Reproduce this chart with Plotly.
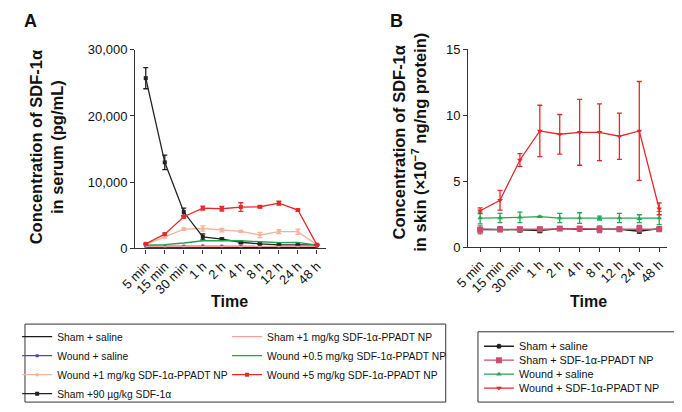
import plotly.graph_objects as go

# The page body adds an 8px margin, so the figure is drawn 8px smaller and
# every layout position below is given in window pixels and converted.
OFF = 8
W, H = 682 - OFF, 412 - OFF
FONT = "Liberation Sans, Arial, sans-serif"


def px(x):
    return (x - OFF) / W


def py(y):
    return 1 - (y - OFF) / H


time_labels = ["5 min", "15 min", "30 min", "1 h", "2 h", "4 h", "8 h", "12 h", "24 h", "48 h"]

# ---------- Panel A: serum (pg/mL) ----------
a_sham_saline = [180, 180, 190, 200, 190, 190, 180, 180, 180, 180]
a_wound_saline = [340, 340, 350, 390, 350, 340, 340, 330, 330, 330]
a_wound_1 = [600, 1700, 2920, 3020, 2770, 2580, 2040, 2530, 2530, 550]
a_wound_1_err = [100, 150, 200, 400, 250, 150, 400, 300, 400, 80]
a_sham_90 = [25700, 13000, 5500, 1750, 1420, 940, 700, 560, 560, 550]
a_sham_90_err = [1600, 1100, 600, 450, 150, 200, 100, 80, 80, 60]
a_sham_1 = [300, 300, 310, 320, 330, 350, 380, 380, 380, 330]
a_wound_05 = [490, 580, 830, 1170, 1170, 1170, 1020, 880, 930, 490]
a_wound_5 = [700, 2170, 4800, 6100, 6000, 6250, 6300, 6830, 5800, 550]
a_wound_5_err = [120, 150, 200, 300, 350, 650, 150, 300, 150, 80]

# ---------- Panel B: skin (x10^-7 ng/ng protein) ----------
b_sham_saline = [1.35, 1.35, 1.30, 1.25, 1.40, 1.35, 1.35, 1.35, 1.20, 1.40]
b_sham_saline_err = [0.10, 0.10, 0.15, 0.15, 0.05, 0.10, 0.10, 0.10, 0.15, 0.05]
b_sham_np = [1.30, 1.35, 1.35, 1.35, 1.40, 1.40, 1.35, 1.35, 1.40, 1.35]
b_sham_np_err = [0.30, 0.20, 0.15, 0.15, 0.05, 0.10, 0.25, 0.15, 0.25, 0.10]
b_wound_saline = [2.20, 2.20, 2.25, 2.30, 2.20, 2.20, 2.20, 2.20, 2.15, 2.20]
b_wound_saline_err = [0.45, 0.35, 0.40, 0.05, 0.35, 0.40, 0.15, 0.35, 0.30, 0.50]
b_wound_np = [2.75, 3.55, 6.60, 8.80, 8.55, 8.70, 8.70, 8.40, 8.80, 2.90]
b_wound_np_err = [0.22, 0.75, 0.48, 1.95, 1.50, 2.50, 2.15, 1.75, 3.75, 0.45]

y_a_ticks = [0, 10000, 20000, 30000]
y_a_ticktext = ["0", "10,000", "20,000", "30,000"]
y_b_ticks = [0, 5, 10, 15]

fig = go.Figure()


def add(x_axis, y_axis, name, y, color, err=None, symbol="square", msize=4,
        legend="legend", width=1.3, show_marker=True):
    fig.add_trace(go.Scatter(
        x=time_labels, y=y, name=name, xaxis=x_axis, yaxis=y_axis,
        mode="lines+markers" if show_marker else "lines",
        line=dict(color=color, width=width),
        marker=dict(color=color, size=msize, symbol=symbol),
        error_y=dict(type="data", array=err, visible=err is not None,
                     color=color, thickness=1.3, width=2.5),
        cliponaxis=False, legend=legend,
    ))


# Panel A (legend split in two columns)
add("x", "y", "Sham + saline", a_sham_saline, "#1a1a1a", show_marker=False, legend="legend")
add("x", "y", "Wound + saline", a_wound_saline, "#4a4aa8", msize=3, legend="legend")
add("x", "y", "Wound +1 mg/kg SDF-1α-PPADT NP", a_wound_1, "#f3b49a", err=a_wound_1_err, msize=3, legend="legend")
add("x", "y", "Sham +90 µg/kg SDF-1α", a_sham_90, "#222222", err=a_sham_90_err, msize=4, legend="legend")
add("x", "y", "Sham +1 mg/kg SDF-1α-PPADT NP", a_sham_1, "#f4a0a0", show_marker=False, legend="legend2")
add("x", "y", "Wound +0.5 mg/kg SDF-1α-PPADT NP", a_wound_05, "#1fa052", show_marker=False, legend="legend2")
add("x", "y", "Wound +5 mg/kg SDF-1α-PPADT NP", a_wound_5, "#e42a2a", err=a_wound_5_err, msize=4, legend="legend2")

# Panel B (one legend per row so the rows can sit closer together)
add("x2", "y2", "Sham + saline", b_sham_saline, "#222222", err=b_sham_saline_err, symbol="circle", msize=5, legend="legend3")
add("x2", "y2", "Sham + SDF-1α-PPADT NP", b_sham_np, "#c8506e", err=b_sham_np_err, symbol="square", msize=6, legend="legend4")
add("x2", "y2", "Wound + saline", b_wound_saline, "#22a655", err=b_wound_saline_err, symbol="triangle-up", msize=5, legend="legend5")
add("x2", "y2", "Wound + SDF-1α-PPADT NP", b_wound_np, "#e8262a", err=b_wound_np_err, symbol="triangle-down", msize=5, legend="legend6")

axis_common = dict(showline=True, linecolor="#333333", linewidth=1.3, ticks="outside",
                   ticklen=4, tickcolor="#333333", tickwidth=1.2, showgrid=False,
                   zeroline=False, mirror=False)


def legend_at(x, y, anchor="top", size=10.3):
    return dict(x=px(x), y=py(y), xanchor="left", yanchor=anchor,
                font=dict(size=size, family=FONT), bgcolor="rgba(0,0,0,0)",
                borderwidth=0, tracegroupgap=0)


fig.update_layout(
    width=W, height=H, margin=dict(l=0, r=0, t=0, b=0),
    paper_bgcolor="white", plot_bgcolor="white",
    font=dict(family=FONT, color="#111111"),
    xaxis=dict(**axis_common, domain=[px(122), px(317)], anchor="y", type="category",
               categoryorder="array", categoryarray=time_labels,
               range=[-0.55, 9.46], tickangle=-45, tickfont=dict(size=13)),
    yaxis=dict(**axis_common, domain=[py(250.5), py(44)], anchor="x",
               range=[0, 30000], tickvals=y_a_ticks, ticktext=y_a_ticktext,
               tickfont=dict(size=13)),
    xaxis2=dict(**axis_common, domain=[px(463), px(667)], anchor="y2", type="category",
                categoryorder="array", categoryarray=time_labels,
                range=[-0.6, 9.41], tickangle=-45, tickfont=dict(size=13)),
    yaxis2=dict(**axis_common, domain=[py(249), py(43.5)], anchor="x2",
                range=[0, 15], tickvals=y_b_ticks, tickfont=dict(size=13)),
    legend=legend_at(1, 327),
    legend2=legend_at(216, 327),
    legend3=legend_at(474, 352, "middle", 10.8),
    legend4=legend_at(474, 366.5, "middle", 10.8),
    legend5=legend_at(474, 381, "middle", 10.8),
    legend6=legend_at(474, 395.5, "middle", 10.8),
    showlegend=True,
)

# Legend boxes
fig.add_shape(type="rect", xref="paper", yref="paper", x0=px(9), x1=px(440),
              y0=py(410), y1=py(329), line=dict(color="#333333", width=1))
fig.add_shape(type="rect", xref="paper", yref="paper", x0=px(473), x1=px(680),
              y0=py(410), y1=py(337), line=dict(color="#333333", width=1))

TITLE = dict(size=16.5, family=FONT, color="#111111")
ann = []
ann.append(dict(text="<b>Concentration of SDF-1α<br>in serum (pg/mL)</b>", x=px(31), y=py(145),
                textangle=-90, font=TITLE))
ann.append(dict(text="<b>Concentration of SDF-1α<br>in skin (×10<sup>−7</sup> ng/ng protein)</b>", x=px(402),
                y=py(140), textangle=-90, font=TITLE))
ann.append(dict(text="<b>Time</b>", x=px(219), y=py(306), font=dict(size=16, family=FONT, color="#111111")))
ann.append(dict(text="<b>Time</b>", x=px(586), y=py(306), font=dict(size=16, family=FONT, color="#111111")))
ann.append(dict(text="<b>A</b>", x=px(15), y=py(14), font=dict(size=18, family=FONT, color="#111111")))
ann.append(dict(text="<b>B</b>", x=px(390), y=py(14), font=dict(size=18, family=FONT, color="#111111")))
for a in ann:
    a.update(xref="paper", yref="paper", showarrow=False, xanchor="center", yanchor="middle")
fig.update_layout(annotations=ann)

fig.write_html("out.html")
